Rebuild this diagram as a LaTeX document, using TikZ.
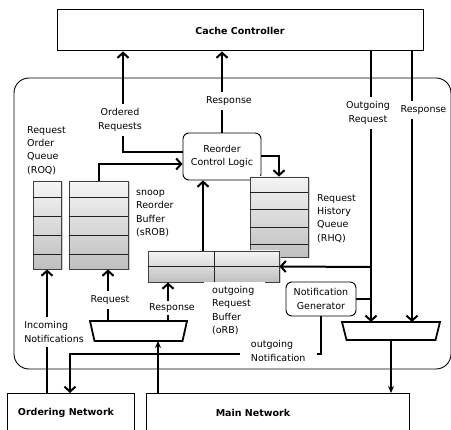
\documentclass[tikz,border=0pt]{standalone}
\usepackage{fontspec}
\setmainfont{DejaVu Sans}
\usetikzlibrary{arrows.meta,shadows}
\begin{document}
\begin{tikzpicture}[x=1pt,y=-1pt,
  font=\fontsize{9.5}{13.3}\selectfont,
  conn/.style={line width=2pt,-{Straight Barb[length=5pt,width=11pt]}},
  thinconn/.style={line width=1.6pt,-{Stealth[length=7pt,width=6pt]}},
  plain/.style={line width=2pt},
  buf/.style={draw=gray!50!black,line width=0.9pt,top color=gray!8,bottom color=gray!50,inner sep=0pt,
     drop shadow={shadow xshift=1.5pt,shadow yshift=-1.5pt,fill=gray!45,opacity=0.8}},
  rowline/.style={draw=gray!25!black,line width=0.7pt},
  rbox/.style={draw,line width=0.9pt,rounded corners=6pt,align=center,inner sep=2pt,fill=white},
  lbl/.style={fill=white,inner xsep=2pt,inner ysep=5pt,align=center},
  txt/.style={align=left,inner sep=0pt,anchor=north west},
  muxarea/.style={inner sep=0pt,outer sep=0pt},
  muxline/.style={line width=1.8pt,line join=miter},
  box/.style={draw,line width=1pt,inner sep=0pt}
]
\useasboundingbox (0,0) rectangle (451,430);
\clip (0,0) rectangle (451,430);

% coordinates
\coordinate (xord) at (123,0);
\coordinate (xreq) at (108,0);
\coordinate (xresp) at (168,0);
\coordinate (xup) at (203,0);
\coordinate (xdiv) at (214,0);
\coordinate (xmain) at (158,0);
\coordinate (oreq) at (371,267);
\coordinate (xrsp) at (412,0);
\coordinate (note) at (70,354);

% main blocks
\node[box,minimum width=366pt,minimum height=41pt] (cc) at (240,30.5) {\bfseries Cache Controller};
\node[draw,line width=0.9pt,rounded corners=15pt,minimum width=437pt,minimum height=291pt] (frame) at (232.5,223.5) {};

\node[rbox,minimum width=78pt,minimum height=47pt] (rcl) at (222,156.5) {Reorder\\Control Logic};

\node[buf,minimum width=28pt,minimum height=88pt] (roq) at (47,225) {};
\foreach \yy in {197,216,235,254} \draw[rowline] (roq.west |- 0,\yy) -- (roq.east |- 0,\yy);
\node[buf,minimum width=59pt,minimum height=88pt] (srob) at (98.5,225) {};
\foreach \yy in {197,216,235,254} \draw[rowline] (srob.west |- 0,\yy) -- (srob.east |- 0,\yy);
\node[buf,minimum width=58pt,minimum height=80pt] (rhq) at (279,217) {};
\foreach \yy in {192,209,227,244} \draw[rowline] (rhq.west |- 0,\yy) -- (rhq.east |- 0,\yy);
\node[buf,minimum width=131pt,minimum height=31pt] (orb) at (213.5,266.5) {};
\draw[rowline] (orb.west) -- (orb.east);
\draw[rowline] (orb.north -| xdiv) -- (orb.south -| xdiv);

\node[rbox,minimum width=70pt,minimum height=34pt] (ng) at (321,299) {Notification\\Generator};

\node[muxarea,minimum width=97pt,minimum height=20pt] (muxl) at (138.5,331) {};
\draw[muxline] (muxl.north west) -- (muxl.north east) -- ([xshift=-4.5pt]muxl.south east) -- ([xshift=4.5pt]muxl.south west) -- cycle;
\node[muxarea,minimum width=98pt,minimum height=18pt] (muxr) at (391,331) {};
\draw[muxline] (muxr.north west) -- (muxr.north east) -- ([xshift=-4.5pt]muxr.south east) -- ([xshift=4.5pt]muxr.south west) -- cycle;

\node[box,minimum width=127pt,minimum height=60pt,anchor=north west] (on) at (7,393) {};
\node (ontxt) at (66,413) {\bfseries Ordering Network};
\node[box,minimum width=263pt,minimum height=60pt,anchor=north west] (mn) at (146,393) {};
\node (mntxt) at (253,413) {\bfseries Main Network};

% connectors
\draw[conn] ([yshift=4.5pt]rcl.west) -| (cc.south -| xord);
\node[lbl] (lord) at (120,120) {Ordered\\Requests};

\draw[conn] (rcl.north) -- (cc.south -| rcl.north);
\node[lbl] (lresp1) at (229,101) {Response};

\draw[conn] (rcl.east) -| (rhq.north);
\draw[conn] (srob.north) |- ([yshift=-7.5pt]rcl.west);
\draw[conn] (orb.north -| xup) -- (rcl.south -| xup);

\draw[conn] (cc.south -| oreq) -- (muxr.north -| oreq);
\draw[conn] (oreq) -- (orb.east);
\draw[conn] (cc.south -| xrsp) -- (muxr.north -| xrsp);
\node[lbl,inner xsep=1pt] (loreq) at (368,113) {Outgoing\\Request};
\node[lbl,inner xsep=1pt] (lresp2) at (423.5,110) {Response};

\draw[plain] (ng.east) -- (ng.east -| oreq);

\draw[conn] (ng.south) |- (note) -- (on.north -| note);
\node[lbl,align=left,text width=55pt,inner xsep=11pt,inner ysep=2pt] (lnote) at (278.5,351) {outgoing\\Notification};

\draw[conn] (on.north -| roq.south) -- (roq.south);
\node[lbl,align=left] (linc) at (54,332) {Incoming\\Notifications};

\draw[conn] (muxl.north -| xreq) -- (srob.south -| xreq);
\node[lbl] (lreq) at (110,300) {Request};

\draw[conn] (muxl.north -| xresp) -- (orb.south -| xresp);
\node[lbl,inner ysep=3pt] (lresp3) at (172,308) {Response};

\draw[thinconn] (mn.north -| xmain) -- (muxl.south -| xmain);
\draw[thinconn] (muxr.south) -- (mn.north -| muxr.south);

% text labels
\node[txt] (troq) at (27,126) {Request\\Order\\Queue\\(ROQ)};
\node[txt] (tsrob) at (136,190) {snoop\\Reorder\\Buffer\\(sROB)};
\node[txt] (trhq) at (317,194) {Request\\History\\Queue\\(RHQ)};
\node[lbl,align=left,text width=45pt,inner xsep=8pt,inner ysep=4pt,anchor=north west] (torb) at (204,282) {outgoing\\Request\\Buffer\\(oRB)};
\end{tikzpicture}
\end{document}
